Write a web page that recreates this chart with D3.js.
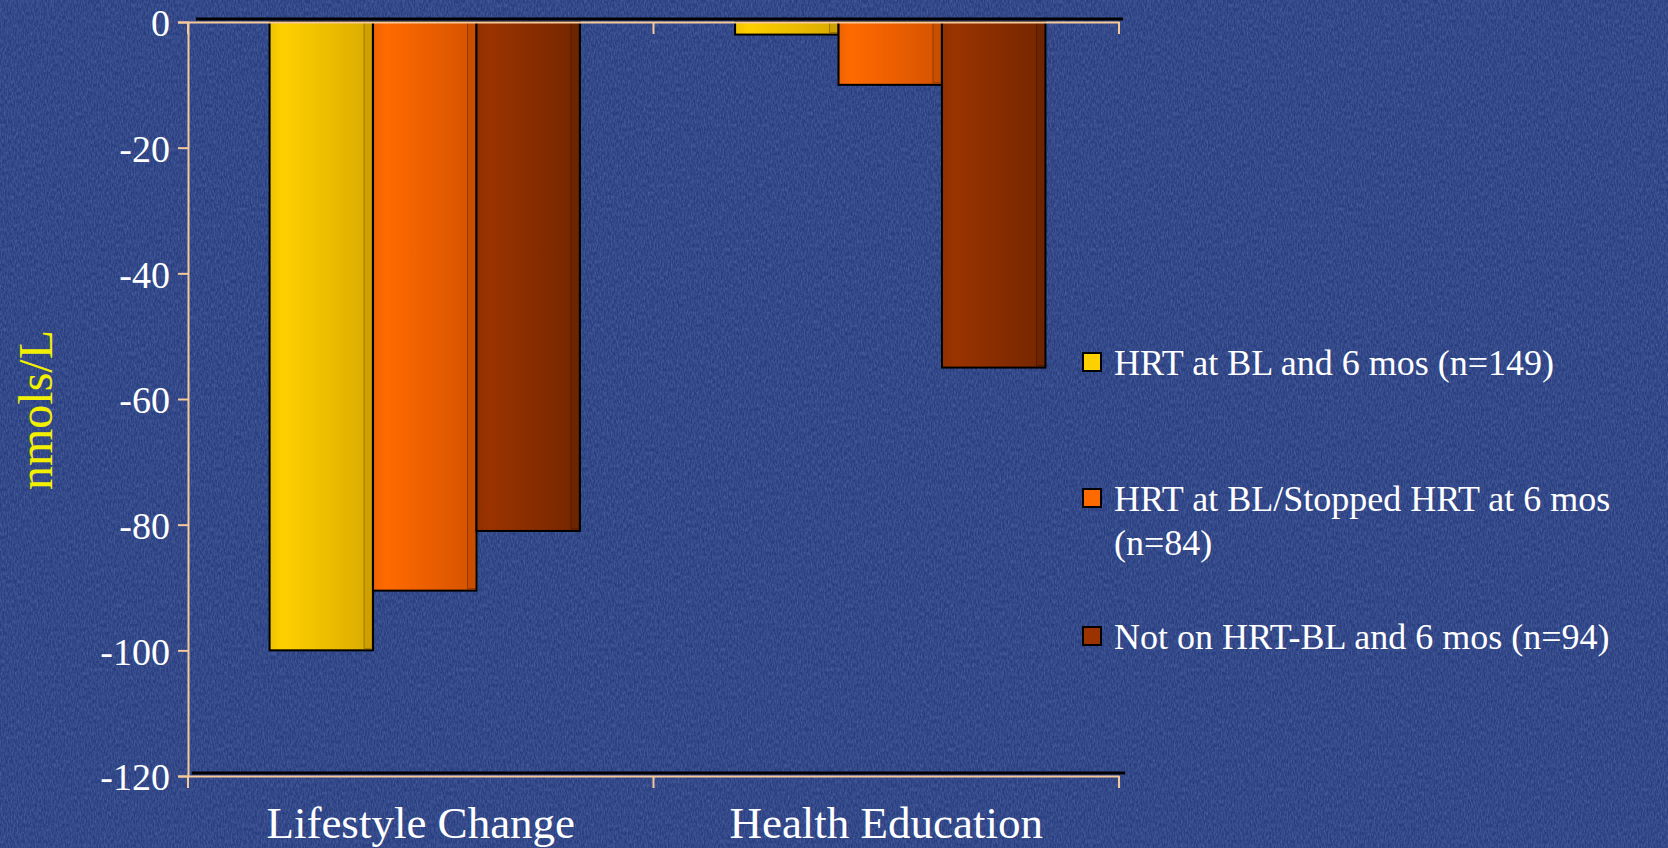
<!DOCTYPE html>
<html>
<head>
<meta charset="utf-8">
<script src="https://cdn.jsdelivr.net/npm/d3@7"></script>
<style>
  html, body { margin: 0; padding: 0; background: #2c4183; overflow: hidden; }
  svg { display: block; }
  text { font-family: "Palatino Linotype", "Book Antiqua", Palatino, "Liberation Serif", "DejaVu Serif", serif; }
</style>
</head>
<body>
<svg class="chart_svg" width="1668" height="848"></svg>
<script>
var categories = ["Lifestyle Change", "Health Education"];
var series = ["HRT at BL and 6 mos (n=149)", "HRT at BL/Stopped HRT at 6 mos (n=84)", "Not on HRT-BL and 6 mos (n=94)"];
var legend_lines = [["HRT at BL and 6 mos (n=149)"], ["HRT at BL/Stopped HRT at 6 mos", "(n=84)"], ["Not on HRT-BL and 6 mos (n=94)"]];
var values_hrt = [-100, -2];
var values_stopped = [-90.5, -10];
var values_none = [-81, -55];
var y_ticks = [0, -20, -40, -60, -80, -100, -120];
var colors = [["#ffd000", "#d9aa00"], ["#ff6a00", "#d45200"], ["#9a3300", "#742600"]];

var svg = d3.select(".chart_svg"),
    plot_left = 188,
    plot_right = 1119,
    plot_top = 22,
    plot_bottom = 776,
    axis_color = "#f6c99a";

// textured background
var defs = svg.append("defs");
var flt = defs.append("filter").attr("id", "grain")
    .attr("x", 0).attr("y", 0).attr("width", "100%").attr("height", "100%");
flt.append("feTurbulence").attr("type", "fractalNoise")
    .attr("baseFrequency", "0.7 0.25").attr("numOctaves", 3).attr("seed", 3);
flt.append("feColorMatrix").attr("type", "matrix")
    .attr("values", "0 0 0 0 0.55  0 0 0 0 0.65  0 0 0 0 0.95  0 0 0 0.7 -0.2");
svg.append("rect").attr("width", 1668).attr("height", 848).attr("fill", "#283e80");
svg.append("rect").attr("width", 1668).attr("height", 848).attr("filter", "url(#grain)").attr("opacity", 0.5);

colors.forEach(function (c, i) {
    var g = defs.append("linearGradient").attr("id", "grad" + i)
        .attr("x1", "0%").attr("x2", "100%").attr("y1", "0%").attr("y2", "0%");
    g.append("stop").attr("offset", "0%").attr("stop-color", d3.color(c[0]).darker(0.2));
    g.append("stop").attr("offset", "12%").attr("stop-color", c[0]);
    g.append("stop").attr("offset", "100%").attr("stop-color", c[1]);
});

var x0 = d3.scaleBand().domain(categories).range([plot_left, plot_right]);
var x1 = d3.scaleBand().domain(d3.range(series.length))
    .range([4, x0.bandwidth() + 4]).paddingOuter(0.75);
var y = d3.scaleLinear().domain([-120, 0]).range([plot_bottom, plot_top]);

var data = [];
categories.forEach(function (cat, ci) {
    [values_hrt, values_stopped, values_none].forEach(function (vals, si) {
        data.push({ cat: cat, s: si, v: vals[ci] });
    });
});

// 3D floor / ceiling edges in black
svg.append("line").attr("x1", plot_left + 4).attr("x2", plot_right + 6)
    .attr("y1", y(-120) - 3).attr("y2", y(-120) - 3)
    .attr("stroke", "#000").attr("stroke-width", 3);
svg.append("line").attr("x1", plot_left + 8).attr("x2", plot_right + 4)
    .attr("y1", y(0) - 3).attr("y2", y(0) - 3)
    .attr("stroke", "#000").attr("stroke-width", 3);

// bars
var bars = svg.append("g").selectAll("g").data(data).enter().append("g");
bars.append("rect")
    .attr("x", function (d) { return x0(d.cat) + x1(d.s); })
    .attr("y", y(0))
    .attr("width", x1.bandwidth())
    .attr("height", function (d) { return y(d.v) - y(0); })
    .attr("fill", function (d) { return "url(#grad" + d.s + ")"; })
    .attr("stroke", "#000")
    .attr("stroke-width", 2);
bars.append("rect") // side face
    .attr("x", function (d) { return x0(d.cat) + x1(d.s) + x1.bandwidth() - 9; })
    .attr("y", y(0))
    .attr("width", 8)
    .attr("height", function (d) { return Math.max(0, y(d.v) - y(0) - 2); })
    .attr("fill", function (d) { return d3.color(colors[d.s][1]).darker(0.15); })
    .attr("stroke", "rgba(0,0,0,0.35)")
    .attr("stroke-width", 0.8);

// axes
var y_axis = svg.append("g").attr("transform", "translate(" + plot_left + ",0)")
    .call(d3.axisLeft(y).tickValues(y_ticks).tickSize(10).tickPadding(8)
        .tickFormat(function (d) { return String(d); }));
y_axis.select(".domain").attr("stroke", axis_color).attr("stroke-width", 2);
y_axis.selectAll(".tick line").attr("stroke", axis_color).attr("stroke-width", 2);
y_axis.selectAll(".tick text").attr("fill", "#fff").style("font-size", "38px")
    .attr("dy", "0.36em");

[0, -120].forEach(function (v) {
    var xa = svg.append("g").attr("transform", "translate(0," + y(v) + ")")
        .call(d3.axisBottom(x0).tickSize(0).tickFormat(""));
    xa.select(".domain").attr("stroke", axis_color).attr("stroke-width", 2);
    xa.selectAll(".tick").remove();
    [plot_left, x0(categories[1]), plot_right].forEach(function (tx) {
        xa.append("line").attr("x1", tx).attr("x2", tx).attr("y1", 0).attr("y2", 12)
            .attr("stroke", axis_color).attr("stroke-width", 2);
    });
});

svg.append("g").selectAll("text").data(categories).enter().append("text")
    .attr("x", function (d) { return x0(d) + x0.bandwidth() / 2; })
    .attr("y", 838)
    .attr("text-anchor", "middle")
    .attr("fill", "#fff")
    .style("font-size", "45px")
    .text(function (d) { return d; });

svg.append("text")
    .attr("transform", "translate(52,410) rotate(-90)")
    .attr("text-anchor", "middle")
    .attr("fill", "#f2f000")
    .style("font-size", "48px")
    .text("nmols/L");

// legend
var leg_y = [362, 498, 636];
var leg = svg.append("g").selectAll("g").data(legend_lines).enter().append("g")
    .attr("transform", function (d, i) { return "translate(1083," + leg_y[i] + ")"; });
leg.append("rect").attr("x", 0).attr("y", -9).attr("width", 18).attr("height", 18)
    .attr("fill", function (d, i) { return colors[i][0]; })
    .attr("stroke", "#000").attr("stroke-width", 2);
leg.append("text").attr("fill", "#fff").style("font-size", "36px")
    .selectAll("tspan").data(function (d) { return d; }).enter().append("tspan")
    .attr("x", 31).attr("dy", function (d, i) { return i === 0 ? "0.35em" : "1.22em"; })
    .text(function (d) { return d; });
</script>
</body>
</html>
